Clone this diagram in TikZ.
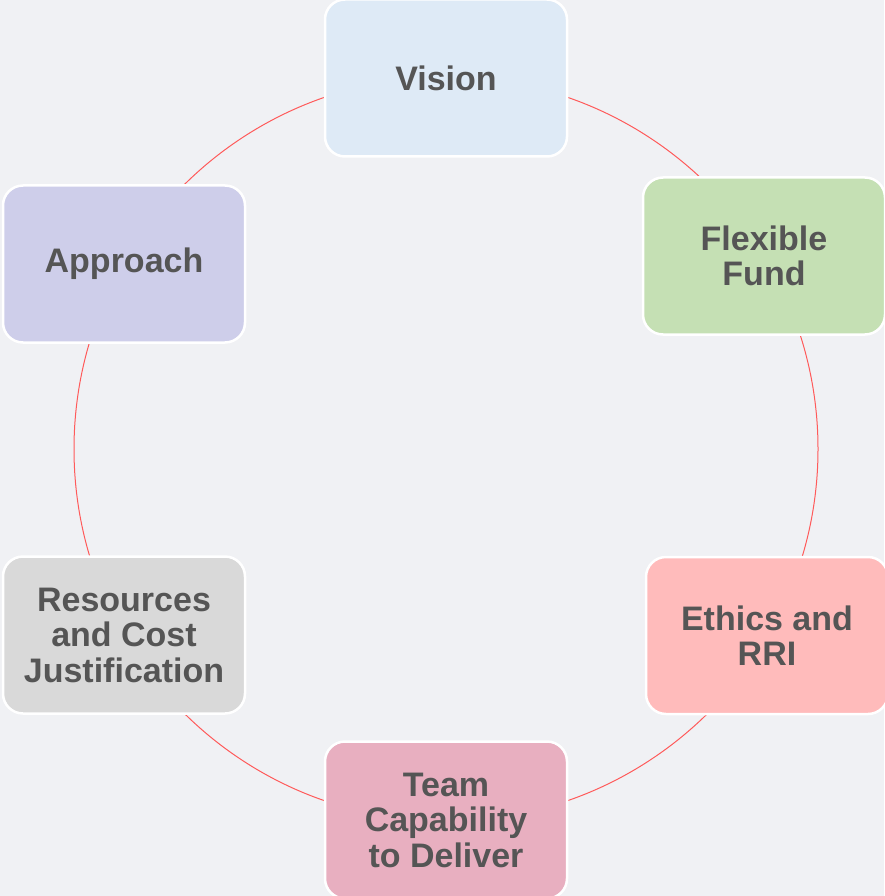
\documentclass[tikz,border=0pt]{standalone}
\usepackage{fontspec}
\setmainfont{Liberation Sans}
\definecolor{bg}{RGB}{240,241,244}
\definecolor{txt}{RGB}{85,85,85}
\definecolor{ring}{RGB}{255,90,90}
\definecolor{cvision}{RGB}{222,234,246}
\definecolor{cflex}{RGB}{197,224,180}
\definecolor{cethics}{RGB}{255,187,187}
\definecolor{cteam}{RGB}{232,175,192}
\definecolor{cres}{RGB}{217,217,217}
\definecolor{cappr}{RGB}{206,206,234}
\tikzset{
  box/.style={draw=white, line width=2.5pt, rounded corners=20pt,
    minimum width=242pt, minimum height=157pt, inner sep=0pt,
    align=center, text=txt,
    font=\fontsize{34}{35.5}\selectfont\bfseries}
}
\begin{document}
\begin{tikzpicture}[x=1pt,y=-1pt]
\fill[bg] (0,0) rectangle (884,896);
\useasboundingbox (0,0) rectangle (884,896);
\coordinate (c) at (446,449);
\draw[ring, line width=1pt] (c) circle[radius=372pt];
\node[box, fill=cvision] (vision) at (446,78) {Vision};
\node[box, fill=cflex] (flex) at (764,256) {Flexible\\Fund};
\node[box, fill=cethics] (ethics) at (767,635.5) {Ethics and\\RRI};
\node[box, fill=cteam] (team) at (446,820) {Team\\Capability\\to Deliver};
\node[box, fill=cres] (res) at (124,635) {Resources\\and Cost\\Justification};
\node[box, fill=cappr] (appr) at (124,264) {Approach};
\end{tikzpicture}
\end{document}
